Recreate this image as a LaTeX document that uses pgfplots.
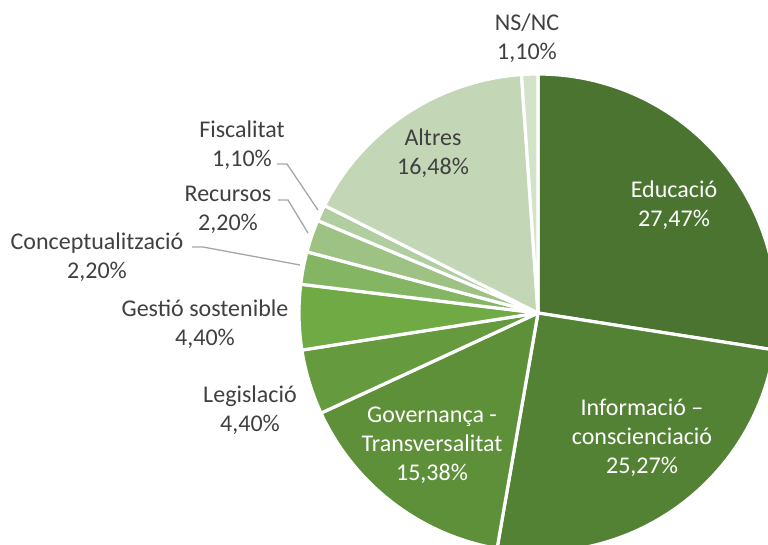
\documentclass[border=0pt]{standalone}
\usepackage{fontspec}
\setmainfont{Carlito}
\usepackage{pgfplots}
\pgfplotsset{compat=1.18}
\definecolor{cEdu}{HTML}{4A7430}
\definecolor{cInf}{HTML}{548235}
\definecolor{cGov}{HTML}{5D9039}
\definecolor{cLeg}{HTML}{659B3E}
\definecolor{cGes}{HTML}{70AA45}
\definecolor{cCon}{HTML}{83B563}
\definecolor{cRec}{HTML}{9DC283}
\definecolor{cFis}{HTML}{B0CEA0}
\definecolor{cAlt}{HTML}{C3D7B7}
\definecolor{cNS}{HTML}{D3E3CA}
\definecolor{txt}{HTML}{404040}
\definecolor{lead}{HTML}{A6A6A6}
\tikzset{
  lbl/.style={font=\fontsize{24}{29}\selectfont, align=center, text=txt, inner sep=0pt},
  wlbl/.style={lbl, text=white},
}
\begin{document}
\begin{tikzpicture}
\useasboundingbox (0,0) rectangle (768pt,544pt);
\begin{axis}[
  at={(0,0)}, anchor=south west,
  scale only axis, width=768pt, height=544pt,
  xmin=0, xmax=768, ymin=0, ymax=544,
  hide axis, clip=true,
  every axis plot/.append style={draw=white, line width=3.2pt, line join=round, samples=80, mark=none},
]
% percentages: 27.47, 25.27, 15.38, 4.40, 4.40, 2.20, 2.20, 1.10, 16.48, 1.10 (clockwise from 12 o'clock)
\addplot[fill=cEdu, domain=-8.892:90]      ({538+239*cos(x)},{231+239*sin(x)}) -- (axis cs:538,231) -- cycle;
\addplot[fill=cInf, domain=-99.864:-8.892] ({538+239*cos(x)},{231+239*sin(x)}) -- (axis cs:538,231) -- cycle;
\addplot[fill=cGov, domain=-155.232:-99.864] ({538+239*cos(x)},{231+239*sin(x)}) -- (axis cs:538,231) -- cycle;
\addplot[fill=cLeg, domain=-171.072:-155.232] ({538+239*cos(x)},{231+239*sin(x)}) -- (axis cs:538,231) -- cycle;
\addplot[fill=cGes, domain=-186.912:-171.072] ({538+239*cos(x)},{231+239*sin(x)}) -- (axis cs:538,231) -- cycle;
\addplot[fill=cCon, domain=-194.832:-186.912] ({538+239*cos(x)},{231+239*sin(x)}) -- (axis cs:538,231) -- cycle;
\addplot[fill=cRec, domain=-202.752:-194.832] ({538+239*cos(x)},{231+239*sin(x)}) -- (axis cs:538,231) -- cycle;
\addplot[fill=cFis, domain=-206.712:-202.752] ({538+239*cos(x)},{231+239*sin(x)}) -- (axis cs:538,231) -- cycle;
\addplot[fill=cAlt, domain=-266.04:-206.712] ({538+239*cos(x)},{231+239*sin(x)}) -- (axis cs:538,231) -- cycle;
\addplot[fill=cNS, domain=-270:-266.04] ({538+239*cos(x)},{231+239*sin(x)}) -- (axis cs:538,231) -- cycle;

% leader lines
\draw[lead, line width=1.3pt] (axis cs:277,380) -- (axis cs:287,380) -- (axis cs:318,334);
\draw[lead, line width=1.3pt] (axis cs:278,344) -- (axis cs:288,344) -- (axis cs:308,311);
\draw[lead, line width=1.3pt] (axis cs:192,297) -- (axis cs:203,297) -- (axis cs:300,279);

% labels
\node[wlbl] at (axis cs:674,339) {Educació\\27,47\%};
\node[wlbl] at (axis cs:642,106) {Informació –\\conscienciació\\25,27\%};
\node[wlbl] at (axis cs:432,99) {Governança -\\Transversalitat\\15,38\%};
\node[lbl] at (axis cs:250,134) {Legislació\\4,40\%};
\node[lbl] at (axis cs:205,220) {Gestió sostenible\\4,40\%};
\node[lbl] at (axis cs:97,287) {Conceptualització\\2,20\%};
\node[lbl] at (axis cs:228,334) {Recursos\\2,20\%};
\node[lbl] at (axis cs:242,399) {Fiscalitat\\1,10\%};
\node[lbl] at (axis cs:433,391) {Altres\\16,48\%};
\node[lbl] at (axis cs:527,506) {NS/NC\\1,10\%};
\end{axis}
\end{tikzpicture}
\end{document}
